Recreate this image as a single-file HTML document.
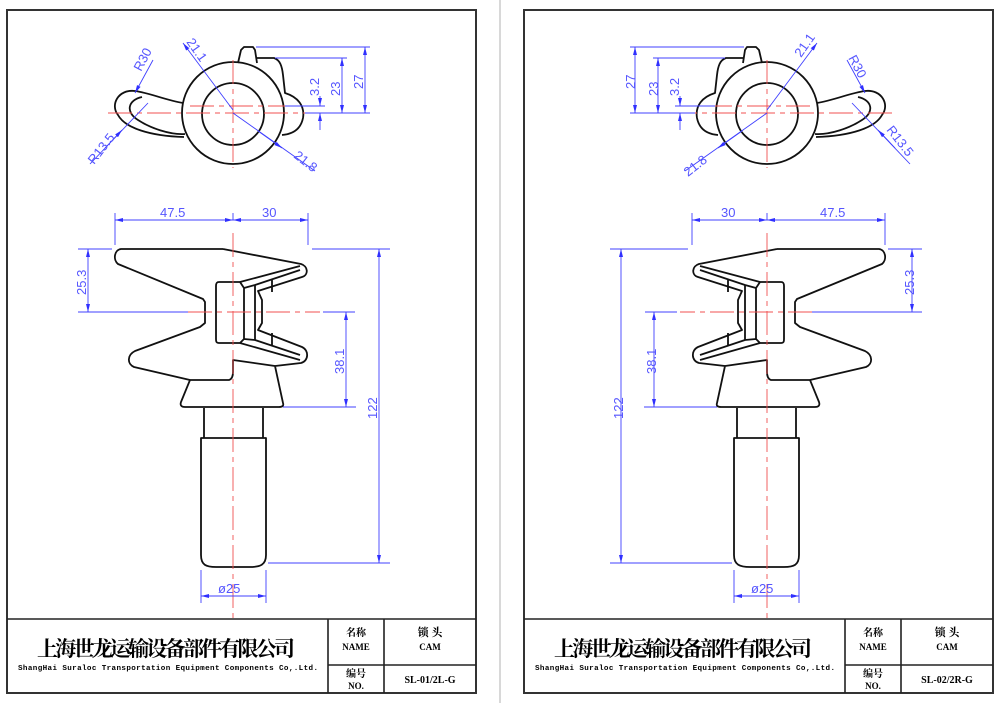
<!DOCTYPE html>
<html><head><meta charset="utf-8"><style>
html,body{margin:0;padding:0;background:#fff;}
svg{display:block;}
.o{fill:none;stroke:#111;stroke-width:1.8;stroke-linejoin:round;}
.c{fill:none;stroke:#f05050;stroke-width:0.9;stroke-dasharray:24 5 5 5;}
.d{fill:none;stroke:#4040ff;stroke-width:0.9;}
.t{font-family:"Liberation Sans",sans-serif;font-size:13px;fill:#5555ff;}
.cn{font-family:"Liberation Serif","Noto Serif CJK SC",serif;font-weight:bold;fill:#000;}
.en{font-family:"Liberation Mono",monospace;font-weight:bold;fill:#000;}
</style></head><body>
<svg width="1000" height="703" viewBox="0 0 1000 703" xmlns="http://www.w3.org/2000/svg">
<defs>
<marker id="a" markerWidth="8" markerHeight="6" refX="8" refY="3" orient="auto-start-reverse" markerUnits="userSpaceOnUse"><path d="M0,1 L8,3 L0,5z" fill="#3030ff"/></marker>
<g id="dw">
 <circle class="o" cx="233" cy="113" r="51"/>
 <circle class="o" cx="233" cy="114" r="31"/>
 <path class="o" d="M183,103 C165,100 150,93 135,91 C118,89 110,105 118,115 C125,128 150,136 184,137"/>
 <path class="o" d="M142,97 C128,100 125,112 138,120 C150,128 170,135 185,134"/>
 <path class="o" d="M238,63 L241,50 L244,47 L253,47 L255,50 L257,63"/>
 <path class="o" d="M256,58 L274,58 C280,60 282,66 283,75 L285,93 C298,97 305,106 303,118 C301,128 294,134 282,135"/>
 <path class="c" d="M108,113 H315 M190,106 H300 M233,60 V168"/>
 <path class="d" d="M183,43 L233,110" marker-start="url(#a)"/>
 <path class="d" d="M233,113 L315,171" />
 <path class="d" d="M258,131 L282,148" marker-end="url(#a)"/>
 <path class="d" d="M153,60 L135,93" marker-end="url(#a)"/>
 <path class="d" d="M148,103 L90,164"/>
 <path class="d" d="M105,148 L122,130" marker-end="url(#a)"/>
 <path class="d" d="M256,47 H370 M275,58 H347 M285,106 H325 M305,113 H370"/>
 <path class="d" d="M365,47 V113" marker-start="url(#a)" marker-end="url(#a)"/>
 <path class="d" d="M342,58 V113" marker-start="url(#a)" marker-end="url(#a)"/>
 <path class="d" d="M320,96 V106" marker-end="url(#a)"/>
 <path class="d" d="M320,130 V113" marker-end="url(#a)"/>
 <path class="o" d="M223,249 L301,264 C308,266 309,275 302,277 L258,291 L262,300 L262,323 L258,330 L302,347 C309,350 309,361 301,363 L275,366 L283,403 C284,406 282,407 279,407 L185,407 C181,407 180,405 181,402 L190,380 L229,380 C232,379 233,376 233,372 L233,360 L275,366"/>
 <path class="o" d="M223,249 L121,249 C114,250 113,260 118,264 L203,299 L205,302 L205,323 L200,327 L135,351 C127,355 127,364 134,367 L190,380"/>
 <path class="o" d="M219,282 L240,282 L244,288 L244,339 L240,343 L219,343 C216,343 216,341 216,339 L216,286 C216,283 217,282 219,282 Z"/>
 <path class="o" d="M244,288 L255,285 L255,340 L244,339 M255,285 L300,270 M255,340 L300,355 M240,282 L300,266 M240,343 L300,360 M272,279 V292 M272,333 V346"/>
 <path class="o" d="M204,408 L204,438 L263,438 L263,408 M201,438 L266,438 L266,555 C266,565 260,567 250,567 L216,567 C206,567 201,565 201,555 Z"/>
 <path class="c" d="M233,233 V620 M188,312 H320"/>
 <path class="d" d="M115,213 V245 M233,213 V220 M308,213 V245"/>
 <path class="d" d="M115,220 H233" marker-start="url(#a)" marker-end="url(#a)"/>
 <path class="d" d="M233,220 H308" marker-start="url(#a)" marker-end="url(#a)"/>
 <path class="d" d="M78,249 H112 M78,312 H188"/>
 <path class="d" d="M88,249 V312" marker-start="url(#a)" marker-end="url(#a)"/>
 <path class="d" d="M312,249 H390 M323,312 H355 M283,407 H356 M268,563 H390"/>
 <path class="d" d="M379,249 V563" marker-start="url(#a)" marker-end="url(#a)"/>
 <path class="d" d="M346,312 V407" marker-start="url(#a)" marker-end="url(#a)"/>
 <path class="d" d="M201,570 V603 M266,570 V603"/>
 <path class="d" d="M201,596 H266" marker-start="url(#a)" marker-end="url(#a)"/>
</g>
</defs>
<rect x="0" y="0" width="1000" height="703" fill="#fff"/>
<line x1="500" y1="0" x2="500" y2="703" stroke="#ccc" stroke-width="1.5"/>
<rect x="7" y="10" width="469" height="683" fill="none" stroke="#333" stroke-width="2"/>
<rect x="524" y="10" width="469" height="683" fill="none" stroke="#333" stroke-width="2"/>
<use href="#dw"/>
<use href="#dw" transform="translate(1000,0) scale(-1,1)"/>
<g class="t">
 <text transform="translate(186,42) rotate(55)">21.1</text>
 <text transform="translate(141,72) rotate(-62)">R30</text>
 <text transform="translate(94,165) rotate(-52)">R13.5</text>
 <text transform="translate(293,157) rotate(38)">21.8</text>
 <text transform="translate(319,96) rotate(-90)">3.2</text>
 <text transform="translate(340,96) rotate(-90)">23</text>
 <text transform="translate(363,89) rotate(-90)">27</text>
 <text x="160" y="217">47.5</text>
 <text x="262" y="217">30</text>
 <text transform="translate(86,295) rotate(-90)">25.3</text>
 <text transform="translate(344,374) rotate(-90)">38.1</text>
 <text transform="translate(377,419) rotate(-90)">122</text>
 <text x="218" y="593">ø25</text>
</g>
<g class="t">
 <text transform="translate(801,58) rotate(-55)">21.1</text>
 <text transform="translate(848,58) rotate(62)">R30</text>
 <text transform="translate(886,130) rotate(52)">R13.5</text>
 <text transform="translate(688,177) rotate(-38)">21.8</text>
 <text transform="translate(679,96) rotate(-90)">3.2</text>
 <text transform="translate(658,96) rotate(-90)">23</text>
 <text transform="translate(635,89) rotate(-90)">27</text>
 <text x="820" y="217">47.5</text>
 <text x="721" y="217">30</text>
 <text transform="translate(914,295) rotate(-90)">25.3</text>
 <text transform="translate(656,374) rotate(-90)">38.1</text>
 <text transform="translate(623,419) rotate(-90)">122</text>
 <text x="751" y="593">ø25</text>
</g>
<g id="tb" stroke="#222" stroke-width="1.6" fill="none">
 <line x1="7" y1="619" x2="476" y2="619"/>
 <line x1="328" y1="619" x2="328" y2="693"/>
 <line x1="384" y1="619" x2="384" y2="693"/>
 <line x1="328" y1="665" x2="476" y2="665"/>
</g>
<use href="#tb" transform="translate(517,0)"/>
<g>
 <text class="cn" x="37" y="656" font-size="21" textLength="258">上海世龙运输设备部件有限公司</text>
 <text class="en" x="18" y="670" font-size="7.6" textLength="300">ShangHai Suraloc Transportation Equipment Components Co,.Ltd.</text>
 <text class="cn" x="356" y="636" font-size="10" text-anchor="middle">名称</text>
 <text class="cn" x="356" y="650" font-size="9" text-anchor="middle">NAME</text>
 <text class="cn" x="356" y="677" font-size="10" text-anchor="middle">编号</text>
 <text class="cn" x="356" y="689" font-size="9" text-anchor="middle">NO.</text>
 <text class="cn" x="430" y="636" font-size="11" text-anchor="middle">锁 头</text>
 <text class="cn" x="430" y="650" font-size="9" text-anchor="middle">CAM</text>
 <text class="cn" x="430" y="683" font-size="10" text-anchor="middle">SL-01/2L-G</text>

 <text class="cn" x="554" y="656" font-size="21" textLength="258">上海世龙运输设备部件有限公司</text>
 <text class="en" x="535" y="670" font-size="7.6" textLength="300">ShangHai Suraloc Transportation Equipment Components Co,.Ltd.</text>
 <text class="cn" x="873" y="636" font-size="10" text-anchor="middle">名称</text>
 <text class="cn" x="873" y="650" font-size="9" text-anchor="middle">NAME</text>
 <text class="cn" x="873" y="677" font-size="10" text-anchor="middle">编号</text>
 <text class="cn" x="873" y="689" font-size="9" text-anchor="middle">NO.</text>
 <text class="cn" x="947" y="636" font-size="11" text-anchor="middle">锁 头</text>
 <text class="cn" x="947" y="650" font-size="9" text-anchor="middle">CAM</text>
 <text class="cn" x="947" y="683" font-size="10" text-anchor="middle">SL-02/2R-G</text>
</g>
</svg>
</body></html>
